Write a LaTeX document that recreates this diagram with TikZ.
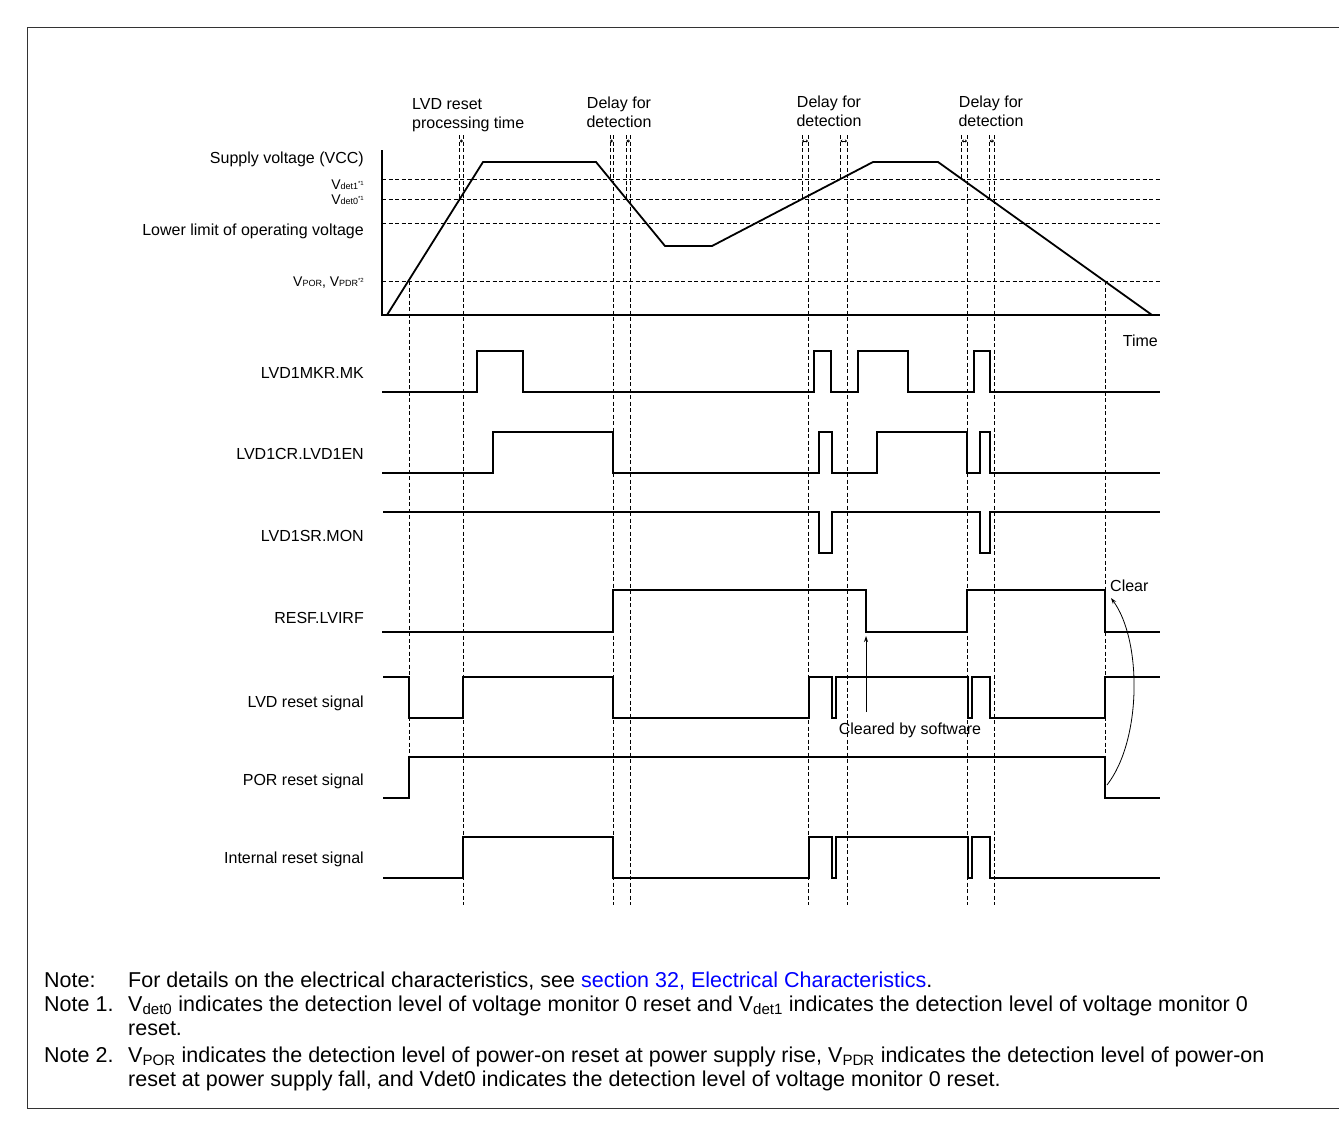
\documentclass[tikz,border=0pt]{standalone}
\usepackage{fontspec}
\setmainfont{Liberation Sans}
\usetikzlibrary{arrows.meta}
\definecolor{linkblue}{RGB}{0,0,255}
\newcommand{\myvsub}[1]{{\fontsize{9}{9}\selectfont #1}}
\newcommand{\myvsup}[1]{\raisebox{4pt}{\fontsize{6}{6}\selectfont #1}}
\begin{document}
\begin{tikzpicture}[x=1pt,y=-1pt,
  sig/.style={line width=1.8pt, line join=miter},
  grid/.style={line width=0.8pt, dash pattern=on 4pt off 2.5pt},
  lbl/.style={anchor=base east, inner sep=0pt, font=\fontsize{16}{19}\selectfont},
  vlbl/.style={anchor=base east, inner sep=0pt, font=\fontsize{14}{16}\selectfont},
  toplbl/.style={anchor=base, inner sep=0pt, font=\fontsize{16}{19}\selectfont},
  notelbl/.style={anchor=base west, inner sep=0pt, font=\fontsize{21.5}{24}\selectfont},
  dimarr/.style={{Stealth[length=2pt,width=3pt]}-{Stealth[length=2pt,width=3pt]}, line width=0.5pt},
  thinarr/.style={-{Stealth[length=6pt,width=4pt]}, line width=0.8pt}
]
\useasboundingbox (0,0) rectangle (1339,1135);
% frame
\draw[line width=1pt, black!80] (1345,27) -- (27,27) -- (27,1108) -- (1345,1108);

% voltage axis
\draw[sig] (382,150) -- (382,315) -- (1160,315);
\foreach \yy in {179,199,223,281} \draw[grid] (382,\yy) -- (1160,\yy);
\draw[sig] (387,315) -- (483,162) -- (596,162) -- (665,246) -- (712,246) -- (873,162) -- (938,162) -- (1152,315);

% voltage labels
\node[lbl] (vcc) at (364,163) {Supply voltage (VCC)};
\node[vlbl] (vd1) at (364,189) {V\myvsub{det1}\myvsup{*1}};
\node[vlbl] (vd0) at (364,204) {V\myvsub{det0}\myvsup{*1}};
\node[lbl] (low) at (364,235) {Lower limit of operating voltage};
\node[vlbl] (vpor) at (364,286) {V\myvsub{POR}, V\myvsub{PDR}\myvsup{*2}};

% top labels
\node[anchor=base west, inner sep=0pt, font=\fontsize{16}{19}\selectfont] (t1a) at (412,109) {LVD reset};
\node[anchor=base west, inner sep=0pt, font=\fontsize{16}{19}\selectfont] (t1b) at (412,128) {processing time};
\node[toplbl] (t2a) at (619,108) {Delay for};
\node[toplbl] (t2b) at (619,127) {detection};
\node[toplbl] (t3a) at (829,107) {Delay for};
\node[toplbl] (t3b) at (829,126) {detection};
\node[toplbl] (t4a) at (991,107) {Delay for};
\node[toplbl] (t4b) at (991,126) {detection};

% short dashed verticals (to curve crossings)
\foreach \xx/\yy in {459.8/199, 610/179, 626.4/199, 802/199, 840.4/179, 961.8/179, 989.7/199}
  \draw[grid] (\xx,135) -- (\xx,\yy);
% long dashed verticals
\foreach \xx in {463,613,630,808,847,967,994}
  \draw[grid] (\xx,135) -- (\xx,905);
\draw[grid] (409,281) -- (409,757);
\draw[grid] (1105,281) -- (1105,790);
% tiny interval arrows
\foreach \xa/\xb in {459.8/463, 610/613, 626.4/630, 802/808, 840.4/847, 961.8/967, 989.7/994}
  \draw[dimarr] (\xa,141) -- (\xb,141);

% signal labels
\node[lbl] (smk) at (364,378) {LVD1MKR.MK};
\node[lbl] (sen) at (364,459) {LVD1CR.LVD1EN};
\node[lbl] (smon) at (364,541) {LVD1SR.MON};
\node[lbl] (slv) at (364,623) {RESF.LVIRF};
\node[lbl] (slvd) at (364,707) {LVD reset signal};
\node[lbl] (spor) at (364,785) {POR reset signal};
\node[lbl] (sint) at (364,863) {Internal reset signal};

% signals
\draw[sig] (382,392) -| (477,351) -| (523,392) -| (814,351) -| (831,392) -| (858,351) -| (908,392) -| (974,351) -| (990,392) -- (1160,392);
\draw[sig] (382,473) -| (493,432) -| (613,473) -| (819,432) -| (832,473) -| (877,432) -| (967,473) -| (980,432) -| (990,473) -- (1160,473);
\draw[sig] (383,512) -| (819,553) -| (832,512) -| (980,553) -| (990,512) -- (1160,512);
\draw[sig] (382,632) -| (613,590) -| (866,632) -| (967,590) -| (1105,632) -- (1160,632);
\draw[sig] (383,677) -| (409,718) -| (463,677) -| (613,718) -| (809,677) -| (832,718) -| (836,677) -| (968,718) -| (972,677) -| (990,718) -| (1105,677) -- (1160,677);
\draw[sig] (383,798) -| (409,757) -| (1105,798) -- (1160,798);
\draw[sig] (383,878) -| (463,837) -| (613,878) -| (809,837) -| (832,878) -| (836,837) -| (968,878) -| (972,837) -| (990,878) -- (1160,878);

% annotations
\node[anchor=base east, inner sep=0pt, font=\fontsize{16}{19}\selectfont] (time) at (1158,346) {Time};
\node[anchor=base west, inner sep=0pt, font=\fontsize{16}{19}\selectfont] (clear) at (1110,591) {Clear};
\node[anchor=base, inner sep=0pt, font=\fontsize{16}{19}\selectfont] (cbs) at (910,734) {Cleared by software};
\coordinate (swtop) at (866,636);
\coordinate (swbot) at (866,712);
\draw[thinarr] (swbot) -- (swtop);
\coordinate (porfall) at (1107,785);
\coordinate (clrtip) at (1111,598);
\draw[thinarr] (porfall) .. controls (1142,740) and (1142,640) .. (clrtip);

% notes
\node[notelbl] (n0) at (44,987) {Note:};
\node[notelbl] (n0t) at (128,987) {For details on the electrical characteristics, see \textcolor{linkblue}{section 32, Electrical Characteristics}.};
\node[notelbl] (n1) at (44,1011) {Note 1.};
\node[notelbl] (n1t) at (128,1011) {V\textsubscript{det0} indicates the detection level of voltage monitor 0 reset and V\textsubscript{det1} indicates the detection level of voltage monitor 0};
\node[notelbl] (n1u) at (128,1035) {reset.};
\node[notelbl] (n2) at (44,1062) {Note 2.};
\node[notelbl] (n2t) at (128,1062) {V\textsubscript{POR} indicates the detection level of power-on reset at power supply rise, V\textsubscript{PDR} indicates the detection level of power-on};
\node[notelbl] (n2u) at (128,1086) {reset at power supply fall, and Vdet0 indicates the detection level of voltage monitor 0 reset.};
\end{tikzpicture}
\end{document}
